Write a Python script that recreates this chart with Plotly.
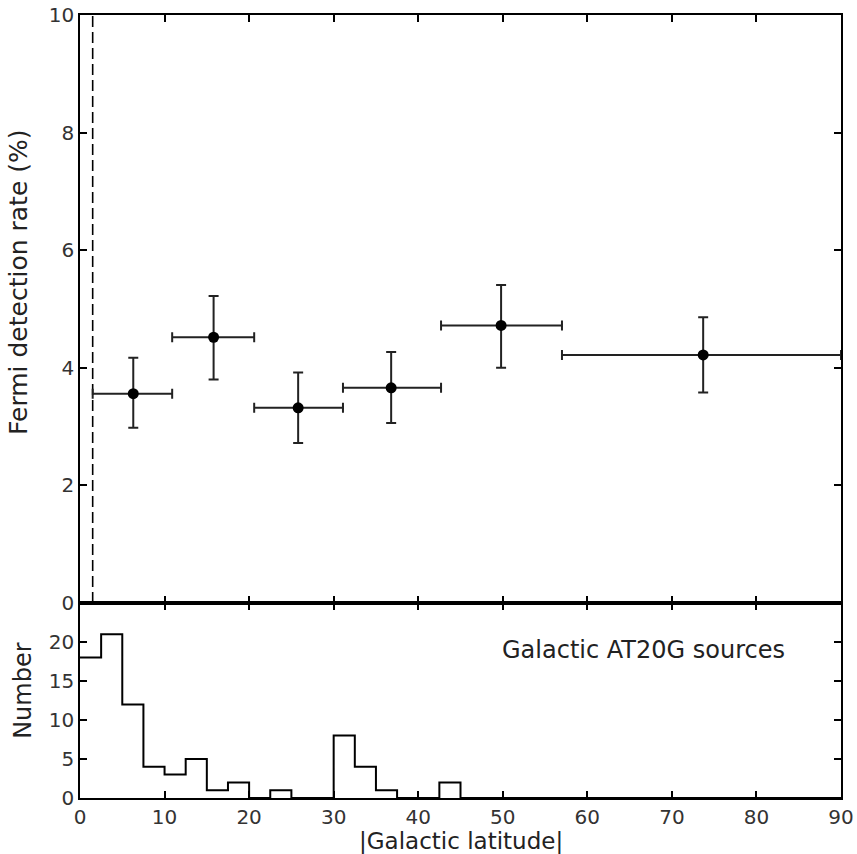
import plotly.graph_objects as go

# Top panel: detection rate points
lat_center = [6.3, 15.8, 25.8, 36.8, 49.8, 73.7]
lat_lo = [1.5, 10.9, 20.6, 31.1, 42.7, 57.0]
lat_hi = [10.9, 20.6, 31.1, 42.7, 57.0, 90.0]
rate = [3.56, 4.52, 3.32, 3.66, 4.72, 4.22]
rate_hi = [4.17, 5.22, 3.92, 4.27, 5.41, 4.86]
rate_lo = [2.98, 3.80, 2.72, 3.06, 4.00, 3.58]
cut_lat = 1.5

# Bottom panel: histogram of Galactic AT20G sources (bin width 2.5 deg)
bin_edges = [0, 2.5, 5, 7.5, 10, 12.5, 15, 17.5, 20, 22.5, 25, 27.5, 30, 32.5, 35,
             37.5, 40, 42.5, 45, 47.5, 50, 52.5, 55, 57.5, 60, 62.5, 65, 67.5, 70,
             72.5, 75, 77.5, 80, 82.5, 85, 87.5, 90]
counts = [18, 21, 12, 4, 3, 5, 1, 2, 0, 1, 0, 0, 8, 4, 1, 0, 0, 2,
          0, 0, 0, 0, 0, 0, 0, 0, 0, 0, 0, 0, 0, 0, 0, 0, 0, 0]

x_ticks = [0, 10, 20, 30, 40, 50, 60, 70, 80, 90]
y_ticks_top = [0, 2, 4, 6, 8, 10]
y_ticks_bot = [0, 5, 10, 15, 20]

FONT = "DejaVu Sans"
TICKC = "#333333"
TXTC = "#222222"

fig = go.Figure()

fig.add_trace(go.Scatter(
    x=[cut_lat, cut_lat], y=[0, 10], mode="lines",
    line=dict(color="black", width=1.6, dash="11px,5px"),
    xaxis="x2", yaxis="y2", showlegend=False, hoverinfo="skip"))

fig.add_trace(go.Scatter(
    x=lat_center, y=rate, mode="markers",
    marker=dict(color="black", size=11),
    error_x=dict(type="data", symmetric=False,
                 array=[h - c for h, c in zip(lat_hi, lat_center)],
                 arrayminus=[c - l for c, l in zip(lat_center, lat_lo)],
                 color="#222222", thickness=2, width=5),
    error_y=dict(type="data", symmetric=False,
                 array=[h - r for h, r in zip(rate_hi, rate)],
                 arrayminus=[r - l for r, l in zip(rate, rate_lo)],
                 color="#222222", thickness=2, width=5),
    xaxis="x2", yaxis="y2", showlegend=False))

step_x = bin_edges
step_y = counts + [counts[-1]]
fig.add_trace(go.Scatter(
    x=step_x, y=step_y, mode="lines", line_shape="hv",
    line=dict(color="black", width=2),
    xaxis="x", yaxis="y", showlegend=False))

axis_common = dict(showline=True, linecolor="black", linewidth=1.5, mirror="ticks",
                   ticks="inside", ticklen=7, tickwidth=1.5, tickcolor="black",
                   showgrid=False, zeroline=False, automargin=False,
                   tickfont=dict(family=FONT, size=20, color=TICKC))

split = 0.249
fig.update_layout(
    width=857, height=854,
    margin=dict(l=80, r=16, t=15, b=56),
    plot_bgcolor="white", paper_bgcolor="white",
    font=dict(family=FONT, color=TXTC),
    xaxis=dict(domain=[0, 1], anchor="y", range=[0, 90], tickvals=x_ticks, **axis_common),
    yaxis=dict(domain=[0, split], anchor="x", range=[0, 25], tickvals=y_ticks_bot, **axis_common),
    xaxis2=dict(domain=[0, 1], anchor="y2", range=[0, 90], tickvals=x_ticks,
                showticklabels=False, matches="x", **axis_common),
    yaxis2=dict(domain=[split, 1], anchor="x2", range=[0, 10], tickvals=y_ticks_top, **axis_common),
    annotations=[
        dict(x=66.7, y=19.0, xref="x", yref="y", text="Galactic AT20G sources",
             showarrow=False, xanchor="center", yanchor="middle",
             font=dict(family=FONT, size=24, color=TXTC)),
        dict(x=0.5007, y=-0.0545, xref="paper", yref="paper", text="|Galactic latitude|",
             showarrow=False, xanchor="center", yanchor="middle",
             font=dict(family=FONT, size=23, color=TXTC)),
        dict(x=-0.0815, y=0.659, xref="paper", yref="paper", text="Fermi detection rate (%)",
             showarrow=False, xanchor="center", yanchor="middle", textangle=-90,
             font=dict(family=FONT, size=25, color=TXTC)),
        dict(x=-0.075, y=0.138, xref="paper", yref="paper", text="Number",
             showarrow=False, xanchor="center", yanchor="middle", textangle=-90,
             font=dict(family=FONT, size=24, color=TXTC)),
    ],
)

fig.write_html("out.html")
